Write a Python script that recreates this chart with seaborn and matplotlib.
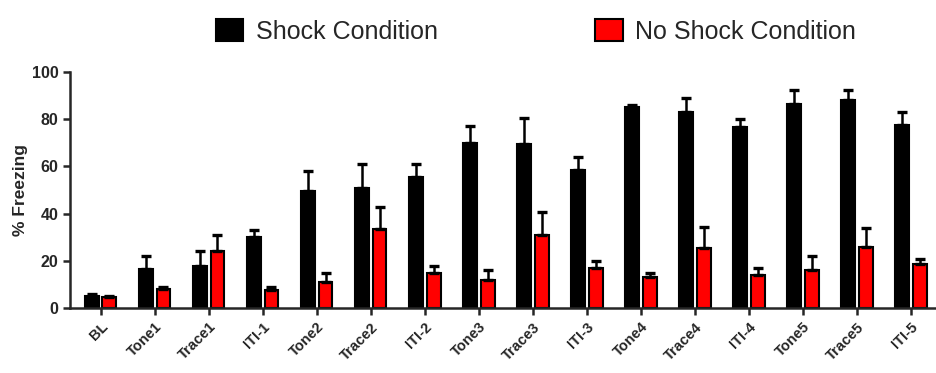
import numpy as np
import pandas as pd
import matplotlib
matplotlib.use("Agg")
import matplotlib.pyplot as plt
from matplotlib.patches import Patch
import seaborn as sns

# ── data ─────────────────────────────────────────────────────────────────────
phases = ["BL", "Tone1", "Trace1", "ITI-1", "Tone2", "Trace2", "ITI-2", "Tone3",
          "Trace3", "ITI-3", "Tone4", "Trace4", "ITI-4", "Tone5", "Trace5", "ITI-5"]
shock_mean = [5, 16.5, 18, 30, 49.5, 51, 55.5, 70, 69.5, 58.5, 85, 83, 76.5, 86.5, 88, 77.5]
shock_sem = [1, 5.5, 6, 3, 8.5, 10, 5.5, 7, 11, 5.5, 1, 6, 3.5, 6, 4.5, 5.5]
noshock_mean = [4.5, 8, 24, 7.5, 11, 33.5, 15, 12, 31, 17, 13, 25.5, 14, 16, 26, 18.5]
noshock_sem = [0.7, 1, 7, 1.5, 4, 9.5, 3, 4, 9.5, 3, 2, 9, 3, 6, 8, 2.5]
groups = ["Shock Condition", "No Shock Condition"]
COLORS = {"Shock Condition": "#000000", "No Shock Condition": "#ff0000"}

df = pd.DataFrame({
    "Phase": phases * 2,
    "Group": [groups[0]] * len(phases) + [groups[1]] * len(phases),
    "Freezing": shock_mean + noshock_mean,
    "SEM": shock_sem + noshock_sem,
})

sns.set_style("ticks")
plt.rcParams.update({"font.family": ["Liberation Sans", "DejaVu Sans"]})

fig = plt.figure(figsize=(9.37, 3.73), dpi=100)
ax = fig.add_axes([0.075, 0.174, 0.923, 0.633])

sns.barplot(data=df, x="Phase", y="Freezing", hue="Group", order=phases,
            hue_order=groups, palette=COLORS, saturation=1, errorbar=None,
            width=0.66, gap=0.22, edgecolor="black", linewidth=1.5,
            legend=False, ax=ax)

# upward-only SEM bars placed on the drawn bars
for container, g in zip(ax.containers, groups):
    sub = df[df["Group"] == g].set_index("Phase").loc[phases]
    xs = [p.get_x() + p.get_width() / 2 for p in container.patches]
    ax.errorbar(xs, sub["Freezing"], yerr=[np.zeros(len(sub)), sub["SEM"]],
                fmt="none", ecolor="black", elinewidth=1.8, capsize=3.5,
                capthick=2.4, zorder=1)

ax.set_ylim(0, 100)
ax.set_yticks([0, 20, 40, 60, 80, 100])
ax.set_xlim(-0.56, 15.45)
ax.set_xlabel("")
ax.set_ylabel("% Freezing", fontsize=12.5, fontweight="bold", labelpad=3)
for s in ["top", "right"]:
    ax.spines[s].set_visible(False)
for s in ["left", "bottom"]:
    ax.spines[s].set_linewidth(1.8)
ax.tick_params(axis="both", width=1.8, length=5)
ax.tick_params(axis="y", labelsize=11.5)
for lab in ax.get_yticklabels():
    lab.set_fontweight("bold")
ax.set_xticks(range(len(phases)))
ax.set_xticklabels(phases, rotation=45, ha="right", rotation_mode="anchor",
                   fontweight="bold", fontsize=10.5)

handles = [Patch(facecolor=COLORS[g], edgecolor="black", linewidth=1.5) for g in groups]
fig.legend(handles, groups, loc="upper center", bbox_to_anchor=(0.572, 1.01),
           ncol=2, frameon=False, fontsize=18, handlelength=1.1, handleheight=1.0,
           handletextpad=0.5, columnspacing=6.3)

plt.savefig("out.png", dpi=100)
plt.close()
